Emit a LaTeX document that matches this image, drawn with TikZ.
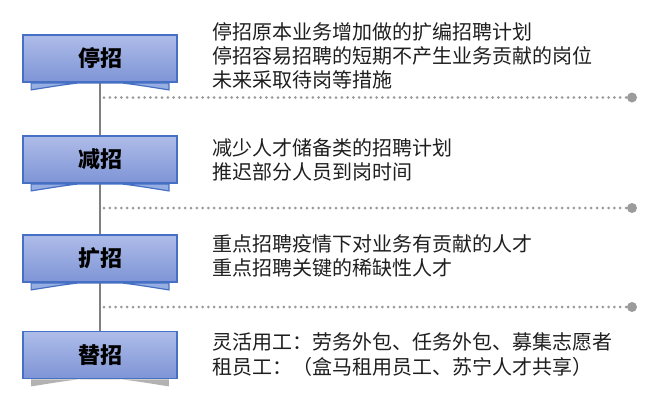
\documentclass[tikz,border=0pt]{standalone}
\usepackage{fontspec}
\setmainfont{Noto Sans CJK SC}
\usetikzlibrary{positioning}
\usetikzlibrary{calc}
\usetikzlibrary{backgrounds}

\definecolor{boxtop}{RGB}{174,188,232}
\definecolor{boxbot}{RGB}{126,148,214}
\definecolor{boxline}{RGB}{70,112,196}
\definecolor{tabfill}{RGB}{150,174,226}
\definecolor{dotgray}{RGB}{155,155,155}
\definecolor{stemgray}{RGB}{128,128,128}
\definecolor{txtgray}{RGB}{30,30,30}

\tikzset{
    stage/.style={draw=boxline, line width=1.8pt, top color=boxtop, bottom color=boxbot,
        minimum width=154pt, minimum height=47pt, inner sep=0pt,
        font=\fontsize{22}{22}\selectfont\bfseries, text=black},
    tab/.style={draw=boxline, line width=1.2pt, fill=tabfill},
    greytab/.style={fill=gray!60},
    stem/.style={stemgray, line width=2pt},
    dotline/.style={dotgray, line width=3pt, line cap=round, dash pattern=on 0pt off 5.8pt},
    enddot/.style={circle, fill=dotgray, inner sep=0pt, minimum size=10pt},
    note/.style={anchor=west, align=left, inner sep=0pt, text=txtgray,
        font=\fontsize{20}{24.3}\selectfont}
}

\begin{document}
\begin{tikzpicture}[x=1pt, y=-1pt]
        \useasboundingbox (0,0) rectangle (655,400);

        % stages
        \node[stage] (tz) at (100,58.5) {停招};
        \node[stage] (jz) at (100,159.5) {减招};
        \node[stage] (kz) at (100,258.5) {扩招};
        \node[stage] (tiz) at (100,355) {替招};

        \begin{pgfonlayer}{background}
            \draw[stem] (tz.south) -- (tiz.north);
            \path[tab] ($(tz.south west)+(9,0)$) -- ++(0,7)
                .. controls ($(tz.south)+(0,-4)$) .. ($(tz.south east)+(-9,7)$) -- ++(0,-7) -- cycle;
            \path[tab] ($(jz.south west)+(9,0)$) -- ++(0,7)
                .. controls ($(jz.south)+(0,-4)$) .. ($(jz.south east)+(-9,7)$) -- ++(0,-7) -- cycle;
            \path[tab] ($(kz.south west)+(9,0)$) -- ++(0,7)
                .. controls ($(kz.south)+(0,-4)$) .. ($(kz.south east)+(-9,7)$) -- ++(0,-7) -- cycle;
            \path[greytab] ($(tiz.south west)+(9,0)$) -- ++(0,7)
                .. controls ($(tiz.south)+(0,-4)$) .. ($(tiz.south east)+(-9,7)$) -- ++(0,-7) -- cycle;
        \end{pgfonlayer}

        % separators
        \coordinate (s1) at (104,97.5);
        \node[enddot] (e1) at (632,97.5) {};
        \draw[dotline] (s1) -- (e1);
        \coordinate (s2) at (104,208);
        \node[enddot] (e2) at (632,208) {};
        \draw[dotline] (s2) -- (e2);
        \coordinate (s3) at (104,307);
        \node[enddot] (e3) at (632,307) {};
        \draw[dotline] (s3) -- (e3);

        % measures
        \node[note] (n1) at (212,56) {停招原本业务增加做的扩编招聘计划\\停招容易招聘的短期不产生业务贡献的岗位\\未来采取待岗等措施};
        \node[note] (n2) at (212,160) {减少人才储备类的招聘计划\\推迟部分人员到岗时间};
        \node[note] (n3) at (212,256) {重点招聘疫情下对业务有贡献的人才\\重点招聘关键的稀缺性人才};
        \node[note] (n4) at (212,354.5) {灵活用工：劳务外包、任务外包、募集志愿者\\租员工：（盒马租用员工、苏宁人才共享）};
    \end{tikzpicture}
\end{document}
